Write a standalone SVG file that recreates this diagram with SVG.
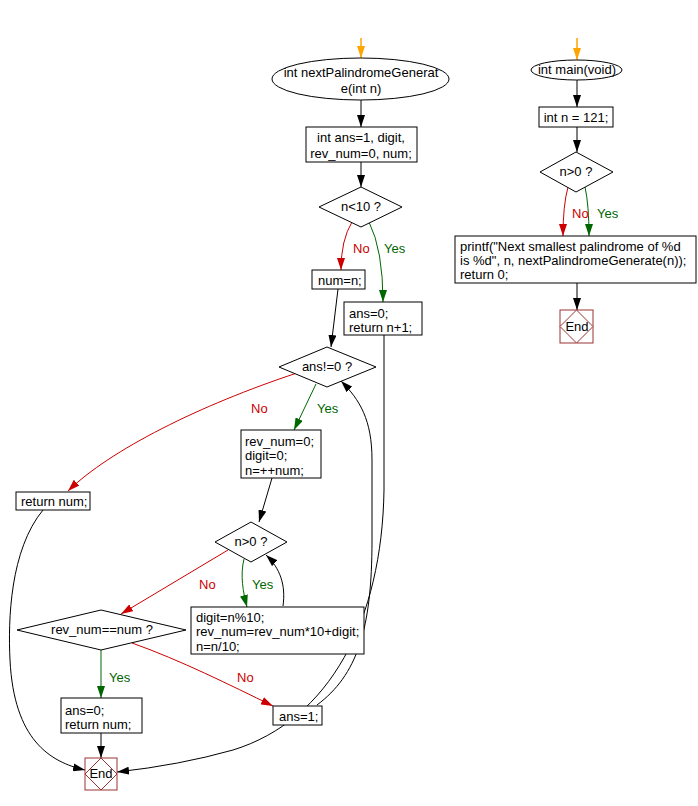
<svg xmlns="http://www.w3.org/2000/svg" width="698" height="806" viewBox="0 0 698 806">
<style>
text{font-family:"Liberation Sans",Arial,sans-serif;font-size:13px;fill:#000}
.c{text-anchor:middle}
.box{fill:#fff;stroke:#000;stroke-width:1}
.ln{fill:none;stroke:#000;stroke-width:1}
.r{fill:none;stroke:#cc0000;stroke-width:1}
.g{fill:none;stroke:#006600;stroke-width:1}
.o{fill:none;stroke:#ffa500;stroke-width:1.5}
.rt{fill:#cc0000}
.gt{fill:#006600}
.endb{fill:#fff;stroke:#993333;stroke-width:1}
</style>
<defs>
<marker id="ak" viewBox="0 0 12 8" refX="12" refY="4" markerWidth="12" markerHeight="8" markerUnits="userSpaceOnUse" orient="auto"><path d="M0,0 L12,4 L0,8 z" fill="#000"/></marker>
<marker id="ar" viewBox="0 0 12 8" refX="12" refY="4" markerWidth="12" markerHeight="8" markerUnits="userSpaceOnUse" orient="auto"><path d="M0,0 L12,4 L0,8 z" fill="#cc0000"/></marker>
<marker id="ag" viewBox="0 0 12 8" refX="12" refY="4" markerWidth="12" markerHeight="8" markerUnits="userSpaceOnUse" orient="auto"><path d="M0,0 L12,4 L0,8 z" fill="#006600"/></marker>
<marker id="ao" viewBox="0 0 12 8" refX="12" refY="4" markerWidth="12" markerHeight="8" markerUnits="userSpaceOnUse" orient="auto"><path d="M0,0 L12,4 L0,8 z" fill="#ffa500"/></marker>
</defs>

<g id="connectors">
<path class="o" d="M361,38 L361,58" marker-end="url(#ao)"/>
<path class="ln" d="M361,100 L361,127" marker-end="url(#ak)"/>
<path class="ln" d="M361,162 L361,187" marker-end="url(#ak)"/>
<path class="r" d="M352,222 Q341,240 341,270" marker-end="url(#ar)"/>
<path class="g" d="M369,222 Q383,250 383,302" marker-end="url(#ag)"/>
<path class="ln" d="M338,289 L331,347" marker-end="url(#ak)"/>
<path class="ln" d="M384,335 L384,490 C382,620 330,720 233,750 Q180,765 117,772" marker-end="url(#ak)"/>
<path class="r" d="M297,373 C200,405 110,450 68,491" marker-end="url(#ar)"/>
<path class="g" d="M316,384 L294,430" marker-end="url(#ag)"/>
<path class="ln" d="M272,478 L259,522" marker-end="url(#ak)"/>
<path class="r" d="M228,550 L121,614" marker-end="url(#ar)"/>
<path class="g" d="M244,559 C240,575 243,592 247,607" marker-end="url(#ag)"/>
<path class="ln" d="M283,606 C286,585 280,568 266,555" marker-end="url(#ak)"/>
<path class="ln" d="M43,510 C10,550 8,620 10,660 C14,740 50,762 85,770" marker-end="url(#ak)"/>
<path class="g" d="M101,650 L101,698" marker-end="url(#ag)"/>
<path class="r" d="M132,643 C180,660 230,685 273,706" marker-end="url(#ar)"/>
<path class="ln" d="M101,733 L101,758" marker-end="url(#ak)"/>
<path class="ln" d="M317,705 C357,675 372,630 372,540 L372,460 C372,420 360,400 341,381" marker-end="url(#ak)"/>

<path class="o" d="M577,38 L577,60" marker-end="url(#ao)"/>
<path class="ln" d="M577,80 L577,107" marker-end="url(#ak)"/>
<path class="ln" d="M577,127 L577,152" marker-end="url(#ak)"/>
<path class="r" d="M568,187 Q563,205 563,236" marker-end="url(#ar)"/>
<path class="g" d="M585,187 Q589,205 589,236" marker-end="url(#ag)"/>
<path class="ln" d="M577,283 L577,310" marker-end="url(#ak)"/>
</g>

<g id="labels">
<text class="rt" x="353" y="253" style="fill:#cc0000">No</text>
<text x="384" y="253" style="fill:#006600">Yes</text>
<text x="251" y="413" style="fill:#cc0000">No</text>
<text x="317" y="413" style="fill:#006600">Yes</text>
<text x="199" y="589" style="fill:#cc0000">No</text>
<text x="252" y="589" style="fill:#006600">Yes</text>
<text x="109" y="682" style="fill:#006600">Yes</text>
<text x="237" y="682" style="fill:#cc0000">No</text>
<text x="572" y="218" style="fill:#cc0000">No</text>
<text x="597" y="218" style="fill:#006600">Yes</text>
</g>

<g id="start1">
<ellipse class="box" cx="360.5" cy="79" rx="88.5" ry="21"/>
<text class="c" x="361" y="77">int nextPalindromeGenerat</text>
<text class="c" x="361" y="93">e(int n)</text>
</g>
<g id="decl1">
<rect class="box" x="306" y="127" width="111" height="35"/>
<text class="c" x="361" y="142">int ans=1, digit,</text>
<text class="c" x="361" y="158">rev_num=0, num;</text>
</g>
<g id="cond1">
<polygon class="box" points="361,187 402,207 361,227 319,207"/>
<text class="c" x="361" y="211">n&lt;10 ?</text>
</g>
<g id="numn">
<rect class="box" x="312" y="270" width="53" height="19"/>
<text x="318" y="285">num=n;</text>
</g>
<g id="ret1">
<rect class="box" x="344" y="302" width="78" height="33"/>
<text x="349" y="318">ans=0;</text>
<text x="349" y="332">return n+1;</text>
</g>
<g id="cond2">
<polygon class="box" points="327,347 376,367 327,387 279,367"/>
<text class="c" x="327" y="371">ans!=0 ?</text>
</g>
<g id="init">
<rect class="box" x="241" y="430" width="80" height="48"/>
<text x="245" y="446">rev_num=0;</text>
<text x="245" y="460">digit=0;</text>
<text x="245" y="475">n=++num;</text>
</g>
<g id="retnum">
<rect class="box" x="16" y="492" width="74" height="18"/>
<text x="21" y="506">return num;</text>
</g>
<g id="cond3">
<polygon class="box" points="251,522 287,542 251,562 215,542"/>
<text class="c" x="251" y="546">n&gt;0 ?</text>
</g>
<g id="loopbody">
<rect class="box" x="191" y="607" width="173" height="47"/>
<text x="196" y="622">digit=n%10;</text>
<text x="196" y="636">rev_num=rev_num*10+digit;</text>
<text x="196" y="651">n=n/10;</text>
</g>
<g id="cond4">
<polygon class="box" points="101,610 186,630 101,650 17,630"/>
<text class="c" x="102" y="634">rev_num==num ?</text>
</g>
<g id="ret2">
<rect class="box" x="61" y="698" width="81" height="35"/>
<text x="65" y="715">ans=0;</text>
<text x="65" y="729">return num;</text>
</g>
<g id="ans1">
<rect class="box" x="273" y="706" width="49" height="19"/>
<text x="279" y="721">ans=1;</text>
</g>
<g id="end1">
<rect class="endb" x="85" y="758" width="32" height="32"/>
<polygon class="endb" points="101,758 117,774 101,790 85,774"/>
<text class="c" x="101" y="778">End</text>
</g>

<g id="start2">
<ellipse class="box" cx="576.5" cy="70" rx="45.5" ry="10"/>
<text class="c" x="577" y="74">int main(void)</text>
</g>
<g id="decl2">
<rect class="box" x="539" y="107" width="74" height="20"/>
<text class="c" x="576" y="122">int n = 121;</text>
</g>
<g id="cond5">
<polygon class="box" points="576,152 613,172 576,192 540,172"/>
<text class="c" x="576" y="176">n&gt;0 ?</text>
</g>
<g id="printf">
<rect class="box" x="455" y="236" width="241" height="47"/>
<text x="460" y="251">printf("Next smallest palindrome of %d</text>
<text x="460" y="265">is %d", n, nextPalindromeGenerate(n));</text>
<text x="460" y="279">return 0;</text>
</g>
<g id="end2">
<rect class="endb" x="560" y="310" width="33" height="33"/>
<polygon class="endb" points="576.5,310 593,326.5 576.5,343 560,326.5"/>
<text class="c" x="577" y="331">End</text>
</g>
</svg>
